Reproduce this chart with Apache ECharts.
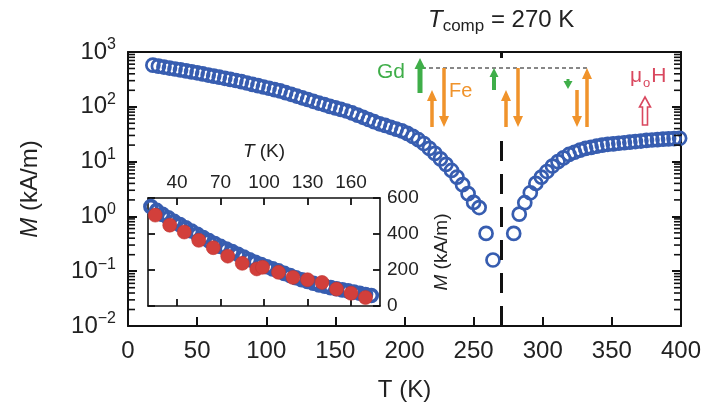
<!DOCTYPE html>
<html><head><meta charset="utf-8">
<script src="https://cdn.jsdelivr.net/npm/echarts@6/dist/echarts.min.js"></script>
<style>html,body{margin:0;padding:0;background:#fff}#c{width:701px;height:411px}</style>
</head><body><div id="c"></div>
<script>
// ---- data ----
const tempMain = [18,22,26,30,34,38,42,46,50,54,58,62,66,70,74,78,82,86,90,94,98,102,106,110,114,118,122,126,130,134,138,142,146,150,154,158,162,166,170,174,178,182,186,190,194,198,202,206,210,214,218,222,226,230,234,238,242,246,250,254,259,264,279,283,287,291,295,299,303,307,311,315,319,323,327,331,335,339,343,347,351,355,359,363,367,371,375,379,383,387,391,395,399];
const magMain = [575,552,531,509,490,470,452,434,417,398,380,363,347,331,316,302,287,272,257,243,230,218,206,195,181,169,157,146,136,126,117,110,102,95.5,89.5,83.8,77.3,70.5,64.3,58.6,53.5,49,45.7,42.3,39.2,36.3,32.7,28.8,25.1,21.4,17.4,14.1,11.2,8.9,6.9,5.2,3.8,2.6,1.8,1.45,0.49,0.16,0.49,1.1,1.78,2.7,4.0,5.2,6.6,8.3,10.0,11.7,13.5,14.8,16.2,17.4,18.2,19.1,20.0,20.7,21.1,21.6,22.1,22.6,23.2,23.7,24.3,24.8,25.1,25.7,26.0,26.3,26.6];
const tempInsetRed = [25,35,45,55,65,75,85,95,99,110,120,130,140,150,160,170];
const magInsetRed = [505,449,411,365,324,277,237,206,215,187,159,146,131,94,71,47];
const insetMaxT = 175;
const compT = 270;
const mainXTicks = [50,100,150,200,250,300,350];
const insetXTicks = [40,70,100,130,160];
const insetYTicks = [200,400];
const minorMantissas = [2,3,4,5,6,7,8,9];
const decades = [-2,-1,0,1,2,3];

const FONT = 'Liberation Sans, Arial, Helvetica, sans-serif';
const BLUE = '#375db0';
const RED = '#d23f3b';
const GREEN = '#3fae49';
const ORANGE = '#f0932b';
const PINK = '#d9485f';
const AX = '#111';

const mainData = tempMain.map((t,i)=>[t, magMain[i]]);
const insetBlue = mainData.filter(d=>d[0] <= insetMaxT);
const insetRed = tempInsetRed.map((t,i)=>[t, magInsetRed[i]]);

function arrow(x, yTail, yTip, sw, hw, hl, color, hollow) {
  const d = yTip < yTail ? 1 : -1;
  const yb = yTip + d*hl;
  return {type:'polygon', z:110, silent:true,
    shape:{points:[[x-sw/2,yTail],[x-sw/2,yb],[x-hw/2,yb],[x,yTip],[x+hw/2,yb],[x+sw/2,yb],[x+sw/2,yTail]]},
    style: hollow ? {fill:'#fff', stroke:color, lineWidth:1.6} : {fill:color}};
}

const axLine = {show:true, onZero:false, lineStyle:{color:AX, width:2}};
const axLineIn = {show:true, onZero:false, lineStyle:{color:AX, width:1.6}};
const mainTick = {show:true, inside:true, length:9, lineStyle:{color:AX, width:2}};
const insetTick = {show:true, inside:true, length:7, lineStyle:{color:AX, width:1.8}};
const chart = echarts.init(document.getElementById('c'), null, {renderer:'canvas'});
chart.setOption({
  animation:false,
  backgroundColor:'#fff',
  textStyle:{fontFamily:FONT},
  grid:[
    {left:128, top:52, width:553, height:274, containLabel:false, outerBoundsMode:'none'},
    {left:148, top:198, width:232, height:108, show:true, backgroundColor:'#fff', borderWidth:0, containLabel:false, outerBoundsMode:'none'}
  ],
  xAxis:[
    {gridIndex:0, type:'value', min:0, max:400, interval:50, axisLine:axLine, axisTick:mainTick,
     axisLabel:{fontSize:24, color:'#222', margin:13, fontFamily:FONT},
     splitLine:{show:false},
     name:'T (K)', nameLocation:'middle', nameGap:52,
     nameTextStyle:{fontSize:24, color:'#222', fontFamily:FONT}},
    {gridIndex:0, type:'value', position:'top', min:0, max:400, axisLine:axLine,
     axisTick:{show:false}, axisLabel:{show:false}, splitLine:{show:false}},
    {gridIndex:1, type:'value', min:20, max:180, axisLine:axLineIn,
     axisTick:Object.assign({customValues:insetXTicks}, insetTick),
     axisLabel:{show:false}, splitLine:{show:false}},
    {gridIndex:1, type:'value', position:'top', min:20, max:180, axisLine:axLineIn,
     axisTick:Object.assign({customValues:insetXTicks}, insetTick),
     axisLabel:{show:true, customValues:insetXTicks, fontSize:19, color:'#222', margin:6, fontFamily:FONT},
     splitLine:{show:false},
     name:'{i|T} (K)', nameLocation:'middle', nameGap:37,
     nameTextStyle:{fontSize:19, color:'#222', fontFamily:FONT,
       rich:{i:{fontStyle:'italic', fontSize:19, fontFamily:FONT, color:'#222'}}}}
  ],
  yAxis:[
    {gridIndex:0, type:'log', logBase:10, min:0.01, max:1000, axisLine:axLine, axisTick:mainTick,
     splitLine:{show:false}, minorTick:{show:false},
     axisLabel:{margin:12, color:'#222', fontFamily:FONT,
       formatter:function(v){const e=Math.round(Math.log10(v)); return '{b|10}{s|'+(e<0?'\u2212'+(-e):e)+'}';},
       rich:{b:{fontSize:24, fontFamily:FONT, color:'#222'},
             s:{fontSize:16, fontFamily:FONT, color:'#222', padding:[0,0,14,0]}}},
     name:'{i|M} (kA/m)', nameLocation:'middle', nameGap:86,
     nameTextStyle:{fontSize:24, color:'#222', fontFamily:FONT,
       rich:{i:{fontStyle:'italic', fontSize:24, fontFamily:FONT, color:'#222'}}}},
    {gridIndex:0, type:'log', logBase:10, min:0.01, max:1000, position:'right', axisLine:axLine,
     axisTick:mainTick, axisLabel:{show:false}, splitLine:{show:false}},
    {gridIndex:1, type:'value', min:0, max:600, interval:200, axisLine:axLineIn, axisTick:insetTick,
     axisLabel:{show:false}, splitLine:{show:false}},
    {gridIndex:1, type:'value', position:'right', min:0, max:600, interval:200, axisLine:axLineIn, axisTick:insetTick,
     axisLabel:{show:true, fontSize:19, color:'#222', margin:7, fontFamily:FONT},
     splitLine:{show:false},
     name:'{i|M} (kA/m)', nameLocation:'middle', nameGap:52, nameRotate:90,
     nameTextStyle:{fontSize:19, color:'#222', fontFamily:FONT,
       rich:{i:{fontStyle:'italic', fontSize:19, fontFamily:FONT, color:'#222'}}}}
  ],
  series:[
    {type:'scatter', xAxisIndex:0, yAxisIndex:0, data:mainData, symbol:'circle', symbolSize:13,
     itemStyle:{color:'rgba(0,0,0,0)', borderColor:BLUE, borderWidth:2.7, opacity:1}, z:4,
     markLine:{silent:true, symbol:'none', label:{show:false},
       lineStyle:{color:'#111', width:3, type:[20,13], opacity:1},
       data:[{xAxis:compT}]}},
    {type:'scatter', xAxisIndex:2, yAxisIndex:2, data:insetBlue, symbol:'circle', symbolSize:12, clip:true,
     itemStyle:{color:'rgba(0,0,0,0)', borderColor:BLUE, borderWidth:3.6, opacity:1}, z:5},
    {type:'scatter', xAxisIndex:2, yAxisIndex:2, data:insetRed, symbol:'circle', symbolSize:14, clip:true,
     itemStyle:{color:RED, borderColor:'#c03530', borderWidth:0.6, opacity:1}, z:6}
  ]
});

// ---- minor log ticks positioned through the chart's own scales ----
const ticks = [];
function tick(x1,y1,x2,y2,w){
  if ([x1,y1,x2,y2].every(isFinite))
    ticks.push({type:'line', z:50, silent:true, shape:{x1:x1,y1:y1,x2:x2,y2:y2}, style:{stroke:AX, lineWidth:w}});
}
const mainPx = (x,y)=>chart.convertToPixel({xAxisIndex:0, yAxisIndex:0}, [x,y]) || [NaN,NaN];
decades.forEach(e=>{
  if (e >= 3) return;
  minorMantissas.forEach(m=>{
    const v = m*Math.pow(10,e);
    const a = mainPx(0, v), b = mainPx(400, v);
    tick(a[0], a[1], a[0]+7, a[1], 1.6);
    tick(b[0], b[1], b[0]-7, b[1], 1.6);
  });
});

const deco = [
  {type:'rect', z:100, silent:true, shape:{x:496, y:58, width:11, height:79}, style:{fill:'#fff'}},
  {type:'line', z:105, silent:true, shape:{x1:422, y1:68, x2:588, y2:68}, style:{stroke:'#111', lineWidth:1.2, lineDash:[4,3]}},
  arrow(420, 93, 58, 5, 11, 11, GREEN),
  arrow(432, 127, 90, 3.5, 10, 11, ORANGE),
  arrow(444, 68, 127, 3.5, 10, 11, ORANGE),
  arrow(494, 90, 68, 4, 9, 9, GREEN),
  arrow(506, 127, 90, 3.5, 10, 11, ORANGE),
  arrow(518, 68, 127, 3.5, 10, 11, ORANGE),
  arrow(568, 79, 89, 3, 9, 8, GREEN),
  arrow(577, 90, 127, 3.5, 10, 11, ORANGE),
  arrow(587, 127, 68, 3.5, 10, 11, ORANGE),
  arrow(645, 125, 97, 5, 11, 10, PINK, true),
  {type:'text', z:110, silent:true, style:{text:'Gd', x:377, y:72, verticalAlign:'middle', fontSize:21, fontFamily:FONT, fill:GREEN}},
  {type:'text', z:110, silent:true, style:{text:'Fe', x:449, y:91, verticalAlign:'middle', fontSize:20, fontFamily:FONT, fill:ORANGE}},
  {type:'text', z:110, silent:true, style:{text:'{a|\u03bc}{b|o}{a|H}', x:630, y:76, verticalAlign:'middle', fill:PINK,
    rich:{a:{fontSize:21, fontFamily:FONT, fill:PINK, color:PINK}, b:{fontSize:13, fontFamily:FONT, fill:PINK, color:PINK, padding:[14,1,0,1]}}}},
  {type:'text', z:110, silent:true, style:{text:'{i|T}{s|comp}{n| = 270 K}', x:428, y:20, verticalAlign:'middle', fill:'#222',
    rich:{i:{fontSize:24, fontStyle:'italic', fontFamily:FONT, fill:'#222', color:'#222'},
          s:{fontSize:17, fontFamily:FONT, fill:'#222', color:'#222', padding:[12,0,0,0]},
          n:{fontSize:24, fontFamily:FONT, fill:'#222', color:'#222'}}}}
];
chart.setOption({graphic: ticks.concat(deco)});
</script></body></html>
